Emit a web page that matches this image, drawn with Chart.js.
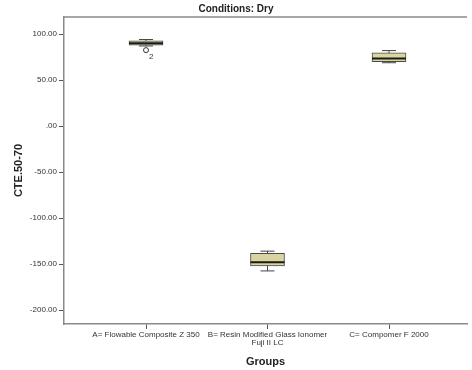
<!DOCTYPE html>
<html>
<head>
<meta charset="utf-8">
<script src="https://cdn.jsdelivr.net/npm/chart.js@4.4.1/dist/chart.umd.min.js"></script>
<style>
html, body { margin: 0; padding: 0; background: #fff; overflow: hidden; }
</style>
</head>
<body>
<canvas id="chart" width="472" height="370"></canvas>
<script>
// Groups and box statistics
const groups = [['A= Flowable Composite Z 350'], ['B= Resin Modified Glass Ionomer', 'Fuji II LC'], ['C= Compomer F 2000']];
const groupPos = [1, 2, 3];
const whiskerMax = [94, -136, 82];
const q3 = [92.5, -138.5, 79.5];
const medians = [90, -148, 73.5];
const q1 = [88, -152, 70];
const whiskerMin = [87, -157.5, 68.8];

// Outliers
const outlierPos = [1];
const outlierValue = [82.5];
const outlierLabel = ['2'];

// Axis ticks
const yTicks = [100, 50, 0, -50, -100, -150, -200];
const yTickLabels = ['100.00', '50.00', '.00', '-50.00', '-100.00', '-150.00', '-200.00'];

const axisColor = '#8a8a8a';
const textColor = '#333';
const font = 'Liberation Sans, Arial, sans-serif';

// Whiskers, medians, outlier labels and the top frame line
const boxParts = {
    id: 'boxParts',
    afterDatasetsDraw(chart) {
        const ctx = chart.ctx;
        const x = chart.scales.x;
        const y = chart.scales.y;
        const area = chart.chartArea;
        ctx.save();

        ctx.strokeStyle = axisColor;
        ctx.lineWidth = 1.5;
        ctx.beginPath();
        ctx.moveTo(area.left, area.top);
        ctx.lineTo(area.right, area.top);
        ctx.stroke();

        groupPos.forEach((p, i) => {
            const cx = x.getPixelForValue(p);
            const half = 17;
            const cap = 7;
            ctx.strokeStyle = '#444';
            ctx.lineWidth = 1;
            ctx.beginPath();
            ctx.moveTo(cx, y.getPixelForValue(q3[i]));
            ctx.lineTo(cx, y.getPixelForValue(whiskerMax[i]));
            ctx.moveTo(cx, y.getPixelForValue(q1[i]));
            ctx.lineTo(cx, y.getPixelForValue(whiskerMin[i]));
            ctx.moveTo(cx - cap, y.getPixelForValue(whiskerMax[i]));
            ctx.lineTo(cx + cap, y.getPixelForValue(whiskerMax[i]));
            ctx.moveTo(cx - cap, y.getPixelForValue(whiskerMin[i]));
            ctx.lineTo(cx + cap, y.getPixelForValue(whiskerMin[i]));
            ctx.stroke();

            ctx.strokeStyle = '#1a1a1a';
            ctx.lineWidth = 2;
            ctx.beginPath();
            ctx.moveTo(cx - half, y.getPixelForValue(medians[i]));
            ctx.lineTo(cx + half, y.getPixelForValue(medians[i]));
            ctx.stroke();
        });

        ctx.fillStyle = textColor;
        ctx.font = '8px ' + font;
        ctx.textAlign = 'left';
        ctx.textBaseline = 'middle';
        outlierPos.forEach((p, i) => {
            ctx.fillText(outlierLabel[i], x.getPixelForValue(p) + 3, y.getPixelForValue(outlierValue[i]) + 7);
        });
        ctx.restore();
    }
};

new Chart(document.getElementById('chart'), {
    type: 'bar',
    data: {
        datasets: [{
            type: 'bar',
            data: groupPos.map((p, i) => ({ x: p, y: [q1[i], q3[i]] })),
            backgroundColor: '#d9d59f',
            borderColor: '#4a4a4a',
            borderWidth: 1,
            borderSkipped: false,
            barThickness: 34
        }, {
            type: 'scatter',
            data: outlierPos.map((p, i) => ({ x: p, y: outlierValue[i] })),
            pointRadius: 2.5,
            pointBackgroundColor: '#fff',
            pointBorderColor: '#333',
            pointBorderWidth: 1
        }]
    },
    options: {
        responsive: false,
        animation: false,
        layout: { padding: 0 },
        plugins: {
            legend: { display: false },
            tooltip: { enabled: false },
            title: {
                display: true,
                text: 'Conditions: Dry',
                color: '#222',
                font: { family: font, size: 10, weight: 'bold' },
                padding: { top: 3, bottom: 2 }
            }
        },
        scales: {
            x: {
                type: 'linear',
                offset: false,
                min: 0.325,
                max: 3.642,
                afterBuildTicks: scale => { scale.ticks = groupPos.map(v => ({ value: v })); },
                afterFit: scale => { scale.height = 46; },
                ticks: {
                    autoSkip: false,
                    maxRotation: 0,
                    padding: 2,
                    color: textColor,
                    font: { family: font, size: 8, lineHeight: 1 },
                    callback: (value, index) => groups[index]
                },
                grid: { offset: false, drawOnChartArea: false, drawTicks: true, tickLength: 5, color: '#555' },
                border: { color: axisColor, width: 1.5 },
                title: {
                    display: true,
                    text: 'Groups',
                    color: '#222',
                    font: { family: font, size: 11, weight: 'bold' },
                    padding: { top: 0, bottom: 1.5 }
                }
            },
            y: {
                min: -215.2,
                max: 118.5,
                afterBuildTicks: scale => { scale.ticks = yTicks.map(v => ({ value: v })); },
                afterFit: scale => { scale.width = 64; },
                ticks: {
                    padding: 2,
                    color: textColor,
                    font: { family: font, size: 8 },
                    callback: (value, index) => yTickLabels[index]
                },
                grid: { drawOnChartArea: false, drawTicks: true, tickLength: 5, color: '#555' },
                border: { color: axisColor, width: 1.5 },
                title: {
                    display: true,
                    text: 'CTE.50-70',
                    color: '#222',
                    font: { family: font, size: 11, weight: 'bold' },
                    padding: { top: 12, bottom: 0 }
                }
            }
        }
    },
    plugins: [boxParts]
});
</script>
</body>
</html>
